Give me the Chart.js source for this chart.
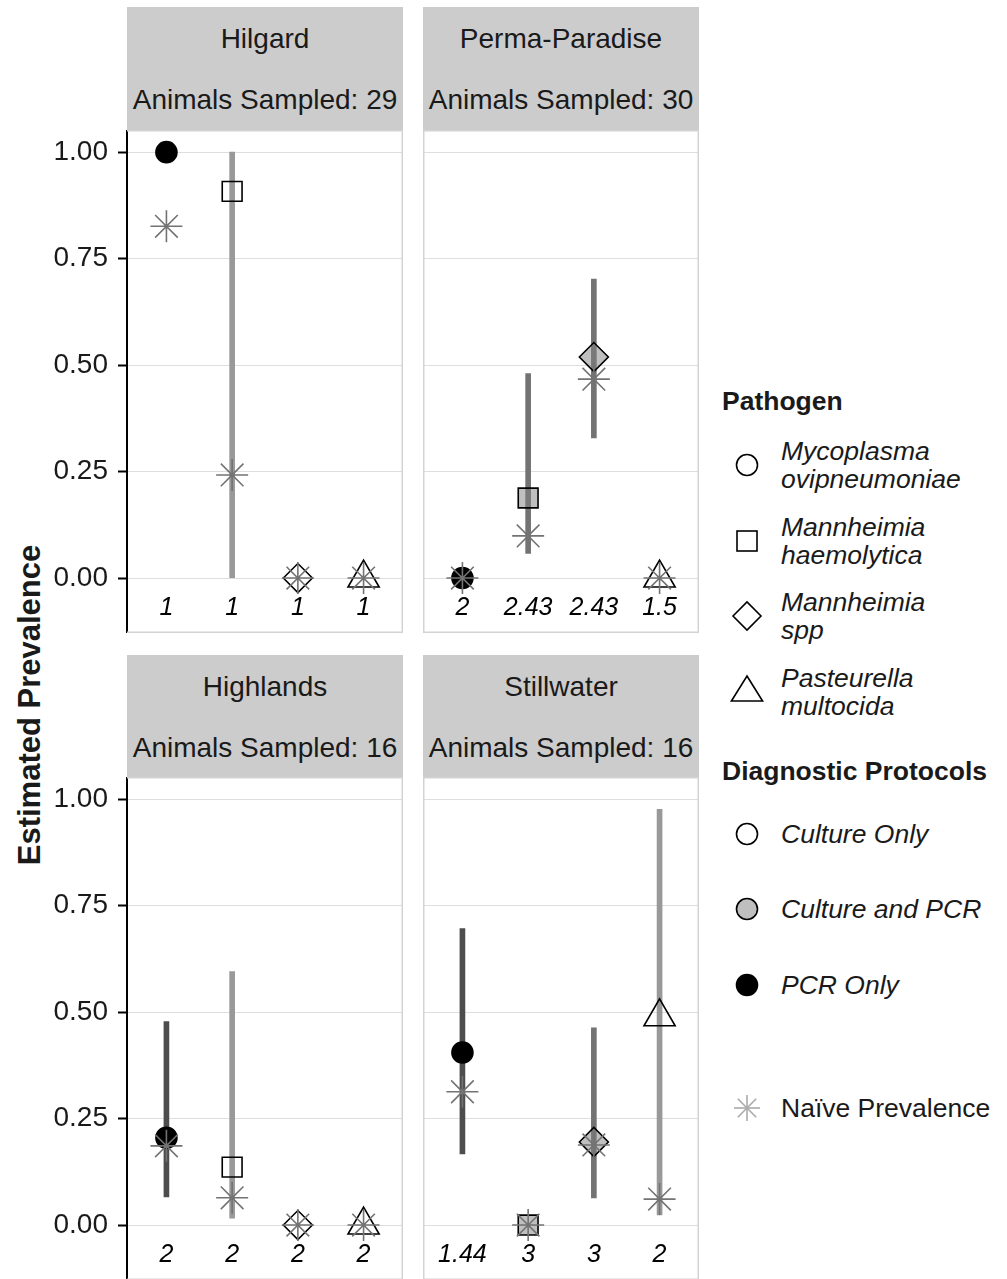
<!DOCTYPE html>
<html>
<head>
<meta charset="utf-8">
<script src="https://cdn.jsdelivr.net/npm/chart.js@4.4.0/dist/chart.umd.min.js"></script>
<style>
    body { margin: 0; background: #fff; font-family: "Liberation Sans", Arial, sans-serif; color: #1a1a1a; }
    #page { position: relative; width: 1007px; height: 1279px; overflow: hidden; }
    .box { position: absolute; }
    .strip { position: absolute; background: #cccccc; text-align: center; font-size: 28px; }
    .strip div { position: absolute; left: 0; right: 0; height: 40px; line-height: 40px; white-space: nowrap; }
    .ytitle { position: absolute; left: 30px; top: 705px; font-size: 31px; font-weight: bold; white-space: nowrap;
              transform: translate(-50%, -50%) rotate(-90deg); }
    .lg { position: absolute; left: 781px; font-size: 26.5px; font-style: italic; line-height: 28px; white-space: nowrap; }
    .lg-title { position: absolute; left: 722px; font-size: 26.5px; font-weight: bold; line-height: 34px; white-space: nowrap; }
    .sym { position: absolute; width: 40px; height: 40px; }
</style>
</head>
<body>
<div id="page">
    <div class="ytitle">Estimated Prevalence</div>
</div>
<script>
// 部位（パネル）と病原体
const siteNames = ['Hilgard', 'Perma-Paradise', 'Highlands', 'Stillwater'];
const animalsSampled = [29, 30, 16, 16];
const pathogens = ['Mycoplasma ovipneumoniae', 'Mannheimia haemolytica', 'Mannheimia spp', 'Pasteurella multocida'];
const protocols = ['Culture Only', 'Culture and PCR', 'PCR Only'];
const yTicks = [0, 0.25, 0.5, 0.75, 1];

// 推定有病率
const estHilgard = [1.00, 0.908, 0, 0];
const estPerma = [0, 0.188, 0.519, 0];
const estHighlands = [0.205, 0.136, 0, 0];
const estStillwater = [0.405, 0, 0.195, 0.489];

// 信頼区間
const lowHilgard = [null, 0.00, null, null];
const highHilgard = [null, 1.00, null, null];
const lowPerma = [null, 0.058, 0.329, null];
const highPerma = [null, 0.480, 0.702, null];
const lowHighlands = [0.066, 0.016, null, null];
const highHighlands = [0.478, 0.595, null, null];
const lowStillwater = [0.167, null, 0.064, 0.024];
const highStillwater = [0.696, null, 0.463, 0.976];

// 単純有病率
const naiveHilgard = [0.826, 0.242, 0, 0];
const naivePerma = [0, 0.099, 0.467, 0];
const naiveHighlands = [0.186, 0.064, 0, 0];
const naiveStillwater = [0.313, 0, 0.188, 0.061];

// 診断プロトコル
const protoHilgard = ['PCR Only', 'Culture Only', 'Culture Only', 'Culture Only'];
const protoPerma = ['PCR Only', 'Culture and PCR', 'Culture and PCR', 'Culture Only'];
const protoHighlands = ['PCR Only', 'Culture Only', 'Culture Only', 'Culture Only'];
const protoStillwater = ['PCR Only', 'Culture and PCR', 'Culture and PCR', 'Culture Only'];

// 各点の下に書く数値
const nHilgard = ['1', '1', '1', '1'];
const nPerma = ['2', '2.43', '2.43', '1.5'];
const nHighlands = ['2', '2', '2', '2'];
const nStillwater = ['1.44', '3', '3', '2'];

const FONT = '"Liberation Sans", Arial, sans-serif';
const pathogenShapes = ['circle', 'rect', 'rectRot', 'triangle'];
const pathogenRadius = [10.5, 14, 14.5, 18];
const protocolFill = { 'Culture Only': 'rgba(0,0,0,0)', 'Culture and PCR': 'rgba(128,128,128,0.5)', 'PCR Only': '#000000' };
const protocolBar = { 'Culture Only': '#999999', 'Culture and PCR': '#737373', 'PCR Only': '#4d4d4d' };

const panels = [
    { est: estHilgard, low: lowHilgard, high: highHilgard, naive: naiveHilgard, proto: protoHilgard, n: nHilgard, left: 127, top: 130, stripTop: 7, isLeft: true },
    { est: estPerma, low: lowPerma, high: highPerma, naive: naivePerma, proto: protoPerma, n: nPerma, left: 423, top: 130, stripTop: 7, isLeft: false },
    { est: estHighlands, low: lowHighlands, high: highHighlands, naive: naiveHighlands, proto: protoHighlands, n: nHighlands, left: 127, top: 777, stripTop: 655, isLeft: true },
    { est: estStillwater, low: lowStillwater, high: highStillwater, naive: naiveStillwater, proto: protoStillwater, n: nStillwater, left: 423, top: 777, stripTop: 655, isLeft: false }
];
const PANEL_W = 276;
const PANEL_H = 503;
const AXIS_W = 127;

// 軸の余白をなくす
function noPadding(s) {
    s.paddingTop = 0;
    s.paddingBottom = 0;
    s.paddingLeft = 0;
    s.paddingRight = 0;
}

// パネル枠
const panelBorder = {
    id: 'panelBorder',
    beforeDatasetsDraw(chart, args, opts) {
        const { ctx, chartArea: a } = chart;
        const r = a.right - 0.75;
        ctx.save();
        ctx.strokeStyle = '#d3d3d3';
        ctx.lineWidth = 1.5;
        ctx.beginPath();
        ctx.moveTo(a.left, a.top + 0.75);
        ctx.lineTo(r, a.top + 0.75);
        ctx.lineTo(r, a.bottom - 0.75);
        ctx.lineTo(a.left, a.bottom - 0.75);
        if (!opts.isLeft) {
            ctx.moveTo(a.left + 0.75, a.top);
            ctx.lineTo(a.left + 0.75, a.bottom);
        }
        ctx.stroke();
        ctx.restore();
    }
};

// 点の下の数値ラベル
const nLabels = {
    id: 'nLabels',
    afterDatasetsDraw(chart, args, opts) {
        const { ctx, scales } = chart;
        ctx.save();
        ctx.font = 'italic 25px ' + FONT;
        ctx.fillStyle = '#000';
        ctx.textAlign = 'center';
        ctx.textBaseline = 'middle';
        opts.labels.forEach((t, i) => {
            ctx.fillText(t, scales.x.getPixelForValue(i + 1), scales.y.getPixelForValue(-0.07));
        });
        ctx.restore();
    }
};

function buildDatasets(p) {
    const bars = [];
    const barColors = [];
    p.low.forEach((lo, i) => {
        if (lo !== null) {
            bars.push({ x: i + 1, y: [lo, p.high[i]] });
            barColors.push(protocolBar[p.proto[i]]);
        }
    });
    return [
        {
            type: 'scatter',
            label: 'Naïve Prevalence',
            data: p.naive.map((v, i) => ({ x: i + 1, y: v })),
            pointStyle: 'star',
            pointRadius: 16,
            pointBorderColor: '#737373',
            pointBorderWidth: 1.6,
            order: 0
        },
        {
            type: 'scatter',
            label: 'Estimate',
            data: p.est.map((v, i) => ({ x: i + 1, y: v })),
            pointStyle: pathogenShapes,
            pointRadius: pathogenRadius,
            pointBackgroundColor: p.proto.map(k => protocolFill[k]),
            pointBorderColor: '#000',
            pointBorderWidth: 1.6,
            order: 1
        },
        {
            type: 'bar',
            label: 'Interval',
            data: bars,
            backgroundColor: barColors,
            barThickness: 5,
            order: 2
        }
    ];
}

const page = document.getElementById('page');

panels.forEach((p, idx) => {
    // ストリップ
    const strip = document.createElement('div');
    strip.className = 'strip';
    Object.assign(strip.style, { left: p.left + 'px', top: p.stripTop + 'px', width: PANEL_W + 'px', height: '123px' });
    strip.innerHTML = '<div style="top:12px">' + siteNames[idx] + '</div>' +
        '<div style="top:73px">Animals Sampled: ' + animalsSampled[idx] + '</div>';
    page.appendChild(strip);

    const box = document.createElement('div');
    box.className = 'box';
    const boxLeft = p.isLeft ? p.left - AXIS_W : p.left;
    const boxW = p.isLeft ? PANEL_W + AXIS_W : PANEL_W;
    Object.assign(box.style, { left: boxLeft + 'px', top: p.top + 'px', width: boxW + 'px', height: PANEL_H + 'px' });
    const canvas = document.createElement('canvas');
    box.appendChild(canvas);
    page.appendChild(box);

    new Chart(canvas.getContext('2d'), {
        type: 'scatter',
        data: { datasets: buildDatasets(p) },
        options: {
            responsive: true,
            maintainAspectRatio: false,
            animation: false,
            events: [],
            layout: { padding: 0, autoPadding: false },
            plugins: {
                legend: { display: false },
                tooltip: { enabled: false },
                panelBorder: { isLeft: p.isLeft },
                nLabels: { labels: p.n }
            },
            scales: {
                x: {
                    type: 'linear',
                    min: 0.4,
                    max: 4.6,
                    offset: false,
                    display: false,
                    ticks: { display: false },
                    afterFit: noPadding
                },
                y: {
                    type: 'linear',
                    min: -0.129,
                    max: 1.052,
                    afterBuildTicks: s => { s.ticks = yTicks.map(v => ({ value: v })); },
                    afterFit: s => { s.width = p.isLeft ? AXIS_W : 0; noPadding(s); },
                    grid: {
                        color: '#dedede',
                        lineWidth: 1,
                        drawTicks: p.isLeft,
                        tickLength: 9,
                        tickColor: '#000',
                        tickWidth: 2
                    },
                    border: { display: p.isLeft, color: '#000', width: 2 },
                    ticks: {
                        display: p.isLeft,
                        color: '#1a1a1a',
                        padding: 10,
                        font: { family: FONT, size: 28 },
                        callback: v => v.toFixed(2)
                    }
                }
            }
        },
        plugins: [panelBorder, nLabels]
    });
});

// 凡例
function addTitle(text, cy) {
    const d = document.createElement('div');
    d.className = 'lg-title';
    d.style.top = (cy - 17) + 'px';
    d.textContent = text;
    page.appendChild(d);
}
function addText(lines, cy, italic) {
    const d = document.createElement('div');
    d.className = 'lg';
    d.style.top = (cy - lines.length * 14) + 'px';
    if (!italic) d.style.fontStyle = 'normal';
    d.innerHTML = lines.join('<br>');
    page.appendChild(d);
}
function addSymbol(svgInner, cy) {
    const d = document.createElement('div');
    d.className = 'sym';
    d.style.left = '727px';
    d.style.top = (cy - 20) + 'px';
    d.innerHTML = '<svg width="40" height="40" viewBox="0 0 40 40">' + svgInner + '</svg>';
    page.appendChild(d);
}

const pathogenSvg = [
    '<circle cx="20" cy="20" r="10.5" fill="none" stroke="#000" stroke-width="1.6"/>',
    '<rect x="10" y="10" width="20" height="20" fill="none" stroke="#000" stroke-width="1.6"/>',
    '<polygon points="6,20 20,6 34,20 20,34" fill="none" stroke="#000" stroke-width="1.6"/>',
    '<polygon points="20,4 35.6,29 4.4,29" fill="none" stroke="#000" stroke-width="1.6"/>'
];
const pathogenLines = [['Mycoplasma', 'ovipneumoniae'], ['Mannheimia', 'haemolytica'], ['Mannheimia', 'spp'], ['Pasteurella', 'multocida']];
const pathogenY = [465, 541, 616, 692];

addTitle('Pathogen', 401);
pathogens.forEach((name, i) => {
    addSymbol(pathogenSvg[i], pathogenY[i]);
    addText(pathogenLines[i], pathogenY[i], true);
});

const protocolY = [834, 909, 985];
const protocolLegendFill = { 'Culture Only': '#ffffff', 'Culture and PCR': '#bfbfbf', 'PCR Only': '#000000' };
addTitle('Diagnostic Protocols', 771);
protocols.forEach((name, i) => {
    addSymbol('<circle cx="20" cy="20" r="10.5" fill="' + protocolLegendFill[name] + '" stroke="#000" stroke-width="1.6"/>', protocolY[i]);
    addText([name], protocolY[i], true);
});

addSymbol('<g stroke="#aaaaaa" stroke-width="1.6">' +
    '<line x1="7" y1="20" x2="33" y2="20"/><line x1="20" y1="7" x2="20" y2="33"/>' +
    '<line x1="10.8" y1="10.8" x2="29.2" y2="29.2"/><line x1="10.8" y1="29.2" x2="29.2" y2="10.8"/></g>', 1108);
addText(['Naïve Prevalence'], 1108, false);
</script>
</body>
</html>
